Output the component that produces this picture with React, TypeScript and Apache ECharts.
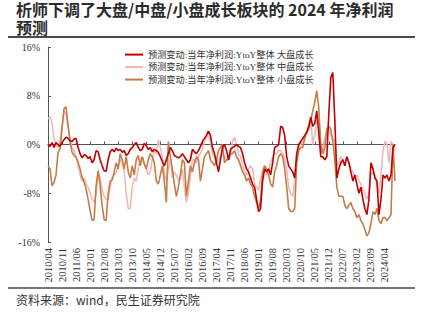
import React, { useEffect, useRef } from "react";
import * as echarts from "echarts";

// Month categories from 2010/04 onward (174 months)
const startYear = 2010;
const startMonth = 4;
const monthCount = 174;
const categories: string[] = [];
for (let i = 0; i < monthCount; i++) {
  const t = startYear * 12 + (startMonth - 1) + i;
  const y = Math.floor(t / 12);
  const m = (t % 12) + 1;
  categories.push(`${y}/${m < 10 ? "0" + m : m}`);
}

const seriesNames = [
  "预测变动:当年净利润:YtoY整体 大盘成长",
  "预测变动:当年净利润:YtoY整体 中盘成长",
  "预测变动:当年净利润:YtoY整体 小盘成长",
];

const largeGrowth = [
  0, -0.3, 0.3, -0.5, 0.3, 0, -0.3, 0.3, 0.8, 1.2,
  1.0, 0.6, 0.5, 0.9, 1.0, -0.5, -1.5, -2.2, -1.7, -1.8,
  -2.3, -2.0, -3.0, -2.5, -1.0, -1.2, -2.5, -3.5, -4.3, -4.4,
  -2.5, -1.2, -0.8, -1.2, -0.6, -1.0, -0.8, -1.3, -1.0, -1.8,
  -1.5, -0.8, -0.5, 0.0, 0.3, -0.5, -1.0, -0.8, 0.2, -0.2,
  -0.8, -0.5, -1.2, -0.8, -1.0, -1.3, -2.0, -2.8, -3.5, -2.5,
  -1.5, -0.5, -1.0, -1.8, -2.0, -2.2, -2.0, -1.5, -2.0, -2.5,
  -3.0, -2.5, -0.8, -1.2, -1.5, -1.0, -0.3, 0.5, 1.0, 1.5,
  2.2, 1.5, -0.5, -1.5, -3.0, -4.5, -2.5, -0.5, 0.0, -1.0,
  -2.5, -0.8, -0.5, -0.3, 0.0, -0.3, -0.5, -1.5, -3.0, -4.0,
  -4.5, -5.5, -6.5, -7.0, -9.0, -11.0, -10.5, -6.0, -4.0, -4.5,
  -4.0, -5.0, -3.0, -0.5, -0.3, 0.0, 3.0, 2.8, 1.5, -2.0,
  -3.5, -4.0, -4.5, -5.5, -1.5, 0.0, 0.5, 1.0, 1.5, 2.0,
  3.0, 4.5, 3.0, 3.5, 5.5, 2.0, -2.0, -2.0, -2.5, -2.0,
  5.0, 11.0, 11.8, 4.0, -5.5, -4.0, -3.0, -2.5, -3.5, -2.0,
  -3.0, -4.5, -6.0, -5.0, -6.5, -8.0, -7.0, -9.0, -10.5, -11.5,
  -9.0, -3.0, -4.0, -5.5, -6.0, -11.5, -9.0, -5.0, -5.5, -5.0,
  -6.0, -5.0, -0.5, 0.0,
];

const midGrowth = [
  4.2, 4.5, 3.5, 1.0, 0, -0.5, 0.5, 3.0, 5.5, 5.0,
  3.0, 1.0, -0.5, -1.0, -2.0, -3.5, -5.0, -6.0, -5.5, -6.5,
  -7.0, -8.0, -9.0, -9.5, -8.0, -4.5, -5.5, -7.5, -8.5, -9.0,
  -9.0, -7.0, -5.5, -5.0, -4.5, -3.5, -2.5, -3.0, -4.5, -8.0,
  -10.5, -10.5, -7.0, -5.5, -6.0, -4.0, -2.5, -2.0, -3.0, -4.0,
  -5.0, -4.5, -2.5, -1.0, -1.5, 0.8, -0.5, -2.0, -4.5, -6.0,
  -4.0, -2.5, -5.5, -4.5, -5.0, -6.0, -5.5, -4.0, -7.0, -9.5,
  -8.0, -5.0, -2.5, -2.5, -3.0, -2.0, -1.5, -0.5, 0.5, 1.2,
  1.5, 0.5, -1.5, -2.0, -3.0, -2.5, -2.0, -1.5, -2.0, -2.5,
  -2.5, -1.5, 0.5, 1.2, 0.0, -1.5, -2.0, -3.5, -4.5, -5.0,
  -4.0, -3.5, -4.0, -6.5, -7.0, -7.5, -5.5, -4.5, -3.5, -5.0,
  -4.0, -3.0, -2.0, -1.5, -1.5, -1.0, -1.0, -1.5, -2.5, -4.0,
  -7.0, -8.0, -8.5, -6.0, -2.0, -0.5, 0.0, 0.5, 1.5, 2.0,
  3.0, 4.5, 0.0, 1.5, 4.5, 3.0, -1.5, -0.5, 1.0, 2.0,
  2.5, 1.5, 1.0, 0.5, -3.5, -3.0, -2.0, -2.5, -3.5, -2.0,
  -3.0, -4.0, -4.5, -5.5, -5.0, -6.0, -6.5, -7.5, -8.0, -9.0,
  -8.0, -5.0, -4.5, -5.0, -6.5, -8.0, -5.0, -1.0, 0.5, 0.0,
  -3.0, 0.5, 0.0, -1.0,
];

const smallGrowth = [
  -3.5, -4.0, -6.8, -6.2, -5.0, -1.3, -0.7, 2.6, 5.9, 6.2,
  3.1, 0.4, -1.3, -1.8, -2.1, -2.9, -4.0, -5.4, -6.2, -7.3,
  -9.0, -10.9, -12.5, -12.3, -6.8, -4.3, -6.8, -10.1, -12.3, -12.5,
  -8.0, -6.0, -5.8, -4.5, -3.0, -4.0, -1.5, -2.5, -4.0, -2.0,
  -4.5, -5.5, -3.5, -5.0, -2.5, -1.8, -3.5, -2.0, -3.2, -4.0,
  -2.5, -1.5, -2.0, -3.0, -6.0, -6.5, -5.0, -3.5, -6.0, -9.5,
  0.5, -2.0, -4.0, -6.5, -8.5, -7.0, -5.0, -2.5, -3.0, -8.5,
  -6.0, -3.5, -4.5, -3.0, -2.0, -2.5, -6.0, -4.0, -2.0, -1.5,
  -1.0, -2.5, -3.0, -3.5, -2.5, -1.0, -0.5, 0.0, -3.0, -2.5,
  -2.5, -1.5, -1.5, -1.0, -2.0, -2.5, -3.5, -4.5, -5.0, -6.0,
  -5.5, -6.5, -7.0, -8.5, -9.5, -10.5, -9.0, -4.5, -3.5, -4.0,
  -5.0, -6.5, -7.0, -4.5, -3.5, -2.0, -1.5, -2.0, -4.0, -7.0,
  -10.5, -11.0, -11.0, -10.5, -3.0, -1.0, -0.5, -0.5, 1.0, 2.0,
  2.5, 4.0, 5.5, 7.0, 8.8, 6.0, 0.0, -1.5, -0.5, 2.5,
  3.0, 2.5, 0.5, -2.5, -7.0, -8.5, -8.5, -8.5, -10.0, -10.5,
  -10.0, -9.5, -10.5, -11.0, -12.0, -11.5, -12.5, -13.0, -14.0, -15.0,
  -14.5, -13.0, -11.0, -11.5, -10.5, -12.5, -13.0, -12.0, -12.0, -12.5,
  -12.0, -11.5, 0.0, -6.0,
];

const colors = ["#C00000", "#F2B8B8", "#C47D47"];

const SERIF = "'Liberation Serif', 'Times New Roman', 'Noto Sans CJK SC', serif";
const SANS = "'Noto Sans CJK SC', 'Noto Sans', sans-serif";

export default function App() {
  const ref = useRef<HTMLDivElement>(null);
  useEffect(() => {
    if (!ref.current) return;
    const chart = echarts.init(ref.current, null, { renderer: "svg" });
    const dataSets = [largeGrowth, midGrowth, smallGrowth];
    const zs = [4, 2, 3];
    chart.setOption({
      animation: false,
      backgroundColor: "#ffffff",
      color: colors,
      grid: { left: 48, right: 29, top: 47, bottom: 82 },
      legend: {
        orient: "vertical",
        left: 120,
        top: 45,
        itemWidth: 18,
        itemHeight: 10,
        itemGap: 3.3,
        icon: "path://M0,4 L18,4 L18,6 L0,6 Z",
        textStyle: { fontFamily: SERIF, fontSize: 9.2, color: "#333" },
        data: seriesNames,
      },
      xAxis: [
        {
          type: "category",
          data: categories,
          boundaryGap: false,
          axisLine: { show: false, onZero: false },
          axisTick: { show: false },
          splitLine: { show: false },
          axisLabel: {
            interval: 6,
            rotate: 90,
            margin: 6,
            fontFamily: SERIF,
            fontSize: 10.5,
            color: "#333",
          },
        },
        {
          type: "category",
          data: categories,
          boundaryGap: false,
          position: "bottom",
          axisLine: { show: true, onZero: true, lineStyle: { color: "#555", width: 1 } },
          axisTick: { show: true, inside: true, length: 3, interval: 6, lineStyle: { color: "#555" } },
          axisLabel: { show: false },
          splitLine: { show: false },
        },
      ],
      yAxis: {
        type: "value",
        min: -16,
        max: 16,
        interval: 8,
        axisLine: { show: true, lineStyle: { color: "#555", width: 1 } },
        axisTick: { show: true, inside: true, length: 3, lineStyle: { color: "#555" } },
        splitLine: { show: false },
        axisLabel: {
          formatter: "{value}%",
          margin: 8,
          fontFamily: SERIF,
          fontSize: 10,
          color: "#333",
        },
      },
      series: seriesNames.map((name, i) => ({
        name,
        type: "line",
        xAxisIndex: 0,
        data: dataSets[i],
        symbol: "none",
        showSymbol: false,
        z: zs[i],
        lineStyle: { width: 1.6, color: colors[i] },
        itemStyle: { color: colors[i] },
      })),
      graphic: [
        {
          type: "text",
          left: 16,
          top: 0,
          style: {
            text: "析师下调了大盘/中盘/小盘成长板块的 2024 年净利润\n预测",
            font: `bold 16px ${SANS}`,
            lineHeight: 18,
            fill: "#2b2b2b",
          },
        },
        {
          type: "line",
          shape: { x1: 8, y1: 37, x2: 415, y2: 37 },
          style: { stroke: "#4a4a4a", lineWidth: 2 },
        },
        {
          type: "line",
          shape: { x1: 8, y1: 288, x2: 415, y2: 288 },
          style: { stroke: "#4a4a4a", lineWidth: 1.5 },
        },
        {
          type: "text",
          left: 16,
          top: 293,
          style: {
            text: "资料来源：wind，民生证券研究院",
            font: `12px ${SANS}`,
            fill: "#333",
          },
        },
      ],
    });
    return () => chart.dispose();
  }, []);
  return (
    <div
      ref={ref}
      style={{ position: "fixed", left: 0, top: 0, width: 424, height: 324, background: "#fff" }}
    />
  );
}
